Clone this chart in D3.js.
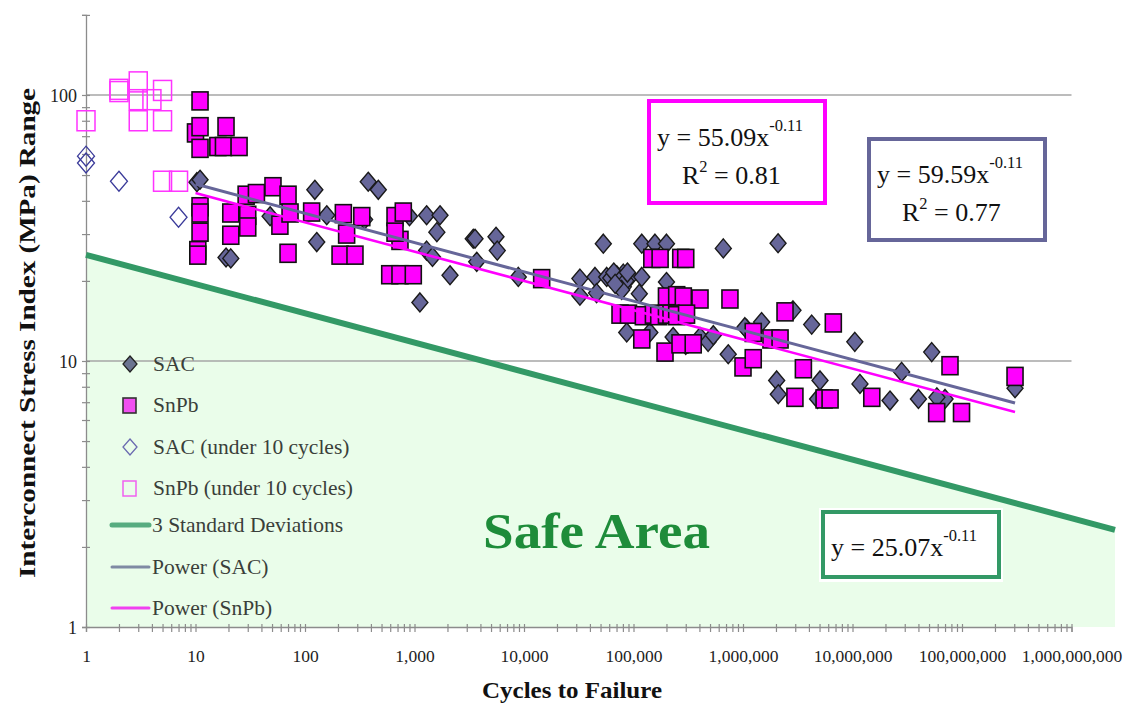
<!DOCTYPE html>
<html><head><meta charset="utf-8">
<script src="https://cdn.jsdelivr.net/npm/d3@7"></script>
<style>
body{margin:0;background:#fff}
svg{display:block}
text{font-family:"Liberation Serif","Times New Roman",serif}
</style>
</head><body>
<svg id="c" width="1124" height="708"></svg>
<script>
// ---- data: [cycles to failure, stress index range (MPa)] ----
const sacData = [
  [10.3,47],[11,48],[19,24.5],[21,24.3],[48,35],[123,44],[128,28],[158,35.3],
  [350,34],[378,47.2],[467,44],[900,35],[1290,35.3],[1710,35.3],[1600,30.5],[2110,21],[1120,16.6],
  [3440,28.8],[1290,26],[1460,24.6],
  [3570,28.8],[5550,29.3],[5700,26],[3700,23.6],[8870,20.7],[53000,27.6],[119000,27.6],[157000,27.6],
  [200000,27.6],[661000,26.5],[32400,20.4],[44500,20.7],[56900,20.7],[70200,21],[80700,21.3],[93000,20.7],
  [119000,20.7],[72600,19.5],[80700,19],[32400,17.6],[46000,18],[113000,17.9],[200000,19.8],
  [62000,20.5],[66000,21.5],[76000,20.2],[85000,20],[88000,21.5],[78000,18.5],[68000,19.5],
  [86700,12.8],[141000,12.8],[230000,12.3],[300000,11.5],[405000,12.3],[480000,11.8],[536000,12.5],
  [733000,10.6],[1080000,13.2],[1040000,13.4],[1480000,14],[2090000,27.7],
  [2860000,15.5],[4240000,13.7],[10500000,11.8],[52900000,10.8],[28100000,9.1],[2030000,8.45],
  [2100000,7.5],[5050000,8.45],[4800000,7.2],[11700000,8.2],[22000000,7.1],[40000000,7.2],
  [70000000,7.2],[59000000,7.3],[305000000,7.9]
];
const snpbData = [
  [11,95],[10,72],[11,76],[11,63],[19,76],[16,64],[18,64],[25,64],
  [11,38],[11,36],[11,30.5],[10.5,26],[10.5,25],
  [21,36],[21,29.7],[30,35.3],[30,31.9],[29,42],[36,42.6],[51,45.2],[70,42],[59,32.4],[70,25.4],
  [73,36],[115,36.3],[224,35.8],[330,34.9],[240,30],[209,25],[286,25],[664,34.9],[790,36.3],
  [737,28.4],[664,30.5],[594,21.1],[737,21.1],[975,21.1],
  [14500,20.4],[147000,24.3],[175000,24.3],[270000,24.3],[300000,24.3],
  [200000,17.4],[248000,17.6],[285000,17.4],[405000,17.1],[760000,17.1],
  [75300,15],[90000,15],[123000,14.8],[152000,15],[170000,14.8],[200000,15],[220000,15],[248000,14.8],[305000,15],
  [119000,12.1],[194000,10.8],[266000,11.6],[351000,11.6],[1000000,9.5],[1240000,10.2],
  [2420000,15.3],[6680000,13.9],[1240000,12.8],[1800000,12.1],[2180000,12.1],[3560000,9.35],
  [2980000,7.3],[5500000,7.2],[6240000,7.2],[15000000,7.3],[77700000,9.6],[58700000,6.4],
  [99000000,6.4],[305000000,8.75]
];
const sacUnder10 = [[1,58.9],[1,55.5],[2,47.4],[7,34.7]];
const snpbUnder10 = [[1,80],[2,105],[2,103],[3,112],[3,96],[3,80],[4,96],[5,104],[5,80],[5,47.4],[7,47.4]];

// power fits: [coefficient, exponent, R^2]
const sacFit = [59.59, -0.11, 0.77];
const snpbFit = [55.09, -0.11, 0.81];
const sdFit = [25.07, -0.11];
const fitRange = [10, 3.05e8];

const xTickValues = [1,10,100,1e3,1e4,1e5,1e6,1e7,1e8,1e9];
const xTickLabels = ["1","10","100","1,000","10,000","100,000","1,000,000","10,000,000","100,000,000","1,000,000,000"];
const yTickValues = [1,10,100];
const yTickLabels = ["1","10","100"];
const legendLabels = ["SAC","SnPb","SAC (under 10 cycles)","SnPb (under 10 cycles)","3 Standard Deviations","Power (SAC)","Power (SnPb)"];

// ---- colours ----
const cSAC = "#666699", cSnPb = "#ff00ff", cGreen = "#339966", cFill = "#eafdea";
const serif = '"Liberation Serif","Times New Roman",serif';

const svg = d3.select("#c");
const x = d3.scaleLog().domain([1,1e9]).range([86,1071.5]);
const y = d3.scaleLog().domain([1,200]).range([627,14.9]);
const pow = (f, v) => f[0]*Math.pow(v, f[1]);

// safe-area fill
const xEnd = x.invert(1115);
svg.append("path")
  .attr("d", d3.line()([[x(1),y(pow(sdFit,1))],[x(xEnd),y(pow(sdFit,xEnd))],[x(xEnd),y(1)],[x(1),y(1)]]) + "Z")
  .attr("fill", cFill);

// gridlines
svg.append("g").selectAll("line").data([10,100]).join("line")
  .attr("x1", x(1)).attr("x2", x(1e9)).attr("y1", d=>y(d)).attr("y2", d=>y(d))
  .attr("stroke","#a6a6a6").attr("stroke-width",1.3);

// minor ticks
const xAll = [];
for (let e=0;e<9;e++) for (let m=1;m<10;m++) xAll.push(m*Math.pow(10,e));
xAll.push(1e9);
const yAll = [];
for (let e=0;e<2;e++) for (let m=1;m<10;m++) yAll.push(m*Math.pow(10,e));
yAll.push(100, 200);

const xLab = new Map(xTickValues.map((v,i)=>[v,xTickLabels[i]]));
const yLab = new Map(yTickValues.map((v,i)=>[v,yTickLabels[i]]));

const gx = svg.append("g").attr("transform","translate(0,627)")
  .call(d3.axisBottom(x).tickValues(xAll).tickSizeOuter(0).tickSize(5)
    .tickFormat(d => xLab.has(d) ? xLab.get(d) : ""));
gx.attr("font-family", serif);
gx.select(".domain").attr("stroke","#8c8c8c").attr("stroke-width",1.3);
gx.selectAll(".tick line").attr("y1",-3).attr("y2",5).attr("stroke","#8c8c8c").attr("stroke-width",1.2);
gx.selectAll(".tick text").attr("y",23).attr("dy","0.71em").attr("font-size",17.5).attr("fill","#222");

const gy = svg.append("g").attr("transform","translate(86,0)")
  .call(d3.axisLeft(y).tickValues(yAll).tickSizeOuter(0).tickSize(4)
    .tickFormat(d => yLab.has(d) ? yLab.get(d) : ""));
gy.attr("font-family", serif);
gy.select(".domain").attr("stroke","#8c8c8c").attr("stroke-width",1.3);
gy.selectAll(".tick line").attr("x1",4).attr("x2",-4).attr("stroke","#8c8c8c").attr("stroke-width",1.2);
gy.selectAll(".tick text").attr("x",-9).attr("dy","0.35em").attr("font-size",18).attr("fill","#222");

// markers
const diamond = (w,h) => `M0,${-h}L${w},0L0,${h}L${-w},0Z`;
svg.append("g").selectAll("path").data(sacData).join("path")
  .attr("d", diamond(8,9.5))
  .attr("transform", d=>`translate(${x(d[0])},${y(d[1])})`)
  .attr("fill", cSAC).attr("stroke","#1a1a1a").attr("stroke-width",1.4);

svg.append("g").selectAll("rect").data(snpbData).join("rect")
  .attr("x", d=>x(d[0])-8).attr("y", d=>y(d[1])-9).attr("width",16).attr("height",18)
  .attr("fill", cSnPb).attr("stroke","#111").attr("stroke-width",1.6);

svg.append("g").selectAll("path").data(sacUnder10).join("path")
  .attr("d", diamond(8.5,10))
  .attr("transform", d=>`translate(${x(d[0])},${y(d[1])})`)
  .attr("fill","none").attr("stroke","#3b3b9a").attr("stroke-width",1.3);

svg.append("g").selectAll("rect").data(snpbUnder10).join("rect")
  .attr("x", d=>x(d[0])-9).attr("y", d=>y(d[1])-10).attr("width",18).attr("height",20)
  .attr("fill","none").attr("stroke","#ff33ff").attr("stroke-width",1.5);

// trend lines
const fitLine = (f) => d3.line()(fitRange.map(v=>[x(v), y(pow(f,v))]));
svg.append("path").attr("d", fitLine(sacFit)).attr("stroke", cSAC).attr("stroke-width",3).attr("fill","none");
svg.append("path").attr("d", fitLine(snpbFit)).attr("stroke", cSnPb).attr("stroke-width",2.6).attr("fill","none");

// 3 standard deviations line
svg.append("path").attr("d", d3.line()([[x(1),y(pow(sdFit,1))],[x(xEnd),y(pow(sdFit,xEnd))]]))
  .attr("stroke", cGreen).attr("stroke-width",6).attr("fill","none");

// legend
const lg = svg.append("g");
const lgY = [364, 405, 447, 488, 525, 567, 608];
lg.append("path").attr("d", diamond(7,8)).attr("transform",`translate(130,${lgY[0]})`)
  .attr("fill","#6b7391").attr("stroke","#222").attr("stroke-width",1.3);
lg.append("rect").attr("x",123).attr("y",lgY[1]-7).attr("width",13).attr("height",15)
  .attr("fill","#f050f0").attr("stroke","#333").attr("stroke-width",1.6);
lg.append("path").attr("d", diamond(7,8)).attr("transform",`translate(130,${lgY[2]})`)
  .attr("fill","none").attr("stroke","#6a6ab0").attr("stroke-width",1.3);
lg.append("rect").attr("x",123).attr("y",lgY[3]-7).attr("width",13).attr("height",15)
  .attr("fill","none").attr("stroke","#f060f0").attr("stroke-width",1.5);
[[cGreen,5,4],["#7f8aa3",3,5],["#f040f0",3,6]].forEach(([c,w,i]) => {
  lg.append("line").attr("x1",112).attr("x2",149).attr("y1",lgY[i]).attr("y2",lgY[i])
    .attr("stroke", c).attr("stroke-width", w).attr("stroke-linecap","round").attr("opacity", i===4?0.8:1);
});
lg.selectAll("text").data(legendLabels).join("text")
  .attr("x", (d,i)=> i<4 ? 153 : 152).attr("y", (d,i)=>lgY[i]+7)
  .attr("font-size",21.5).attr("fill","#3a3f3a").text(d=>d);

// equation boxes
function eqBox(bx, by, bw, bh, color, fit, tx1, ty1, tx2, ty2) {
  const g = svg.append("g");
  g.append("rect").attr("x",bx).attr("y",by).attr("width",bw).attr("height",bh)
    .attr("fill","#fff").attr("stroke",color).attr("stroke-width",4);
  const t1 = g.append("text").attr("x",tx1).attr("y",ty1).attr("font-size",26).attr("fill","#111");
  t1.append("tspan").text(`y = ${fit[0].toFixed(2)}x`);
  t1.append("tspan").attr("dy",-15).attr("font-size",16.5).text(`${fit[1]}`);
  if (fit.length > 2) {
    const t2 = g.append("text").attr("x",tx2).attr("y",ty2).attr("font-size",26).attr("fill","#111");
    t2.append("tspan").text("R");
    t2.append("tspan").attr("dy",-12).attr("font-size",16.5).text("2");
    t2.append("tspan").attr("dy",12).text(` = ${fit[2].toFixed(2)}`);
  }
}
eqBox(649, 101, 176, 102, cSnPb, snpbFit, 657, 146, 682, 184);
eqBox(869, 139, 176, 101, cSAC, sacFit, 877, 183, 902, 221);
svg.append("rect").attr("x",819).attr("y",508).attr("width",184).attr("height",74).attr("fill","#fff");
eqBox(823, 512, 176, 65, cGreen, sdFit, 831, 556, 0, 0);

// Safe Area label
svg.append("text").attr("x",483).attr("y",548).attr("font-size",50).attr("font-weight","bold")
  .attr("fill","#1e8c3a").attr("textLength",227).attr("lengthAdjust","spacingAndGlyphs").text("Safe Area");

// axis titles
svg.append("text").attr("x",572).attr("y",698).attr("text-anchor","middle")
  .attr("font-size",23).attr("font-weight","bold").attr("fill","#111")
  .attr("textLength",180).attr("lengthAdjust","spacingAndGlyphs").text("Cycles to Failure");
svg.append("text").attr("transform","translate(35,333) rotate(-90)").attr("text-anchor","middle")
  .attr("font-size",24).attr("font-weight","bold").attr("fill","#111")
  .attr("textLength",490).attr("lengthAdjust","spacingAndGlyphs").text("Interconnect Stress Index (MPa) Range");
</script>
</body></html>
